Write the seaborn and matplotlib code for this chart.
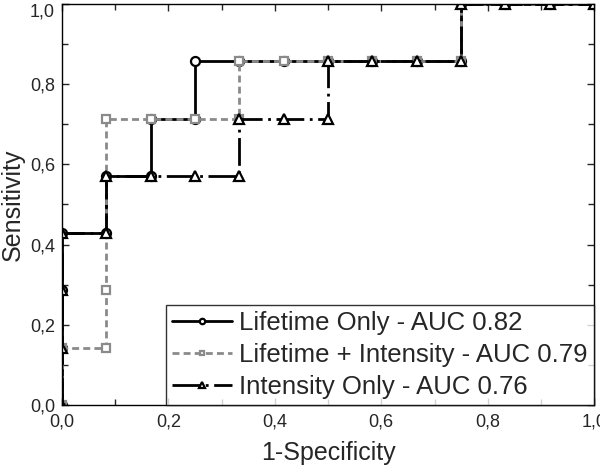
import numpy as np
import pandas as pd
import matplotlib
matplotlib.use('Agg')
import matplotlib.pyplot as plt
import seaborn as sns
from matplotlib.ticker import FuncFormatter, MultipleLocator

# ROC curve points
fpr_lifetime = [0.0, 0.0, 0.0, 0.0, 0.083, 0.083, 0.167, 0.167, 0.25, 0.25, 0.333, 0.417,
                0.5, 0.583, 0.667, 0.75, 0.75, 0.833, 0.917, 1.0]
tpr_lifetime = [0.0, 0.143, 0.286, 0.429, 0.429, 0.571, 0.571, 0.714, 0.714, 0.857, 0.857, 0.857,
                0.857, 0.857, 0.857, 0.857, 1.0, 1.0, 1.0, 1.0]

fpr_combined = [0.0, 0.0, 0.083, 0.083, 0.083, 0.167, 0.25, 0.333, 0.333, 0.417,
                0.5, 0.583, 0.667, 0.75, 0.75, 0.833, 0.917, 1.0]
tpr_combined = [0.0, 0.143, 0.143, 0.286, 0.714, 0.714, 0.714, 0.714, 0.857, 0.857,
                0.857, 0.857, 0.857, 0.857, 1.0, 1.0, 1.0, 1.0]

fpr_intensity = [0.0, 0.0, 0.0, 0.0, 0.083, 0.083, 0.167, 0.25, 0.333, 0.333, 0.417, 0.5,
                 0.5, 0.583, 0.667, 0.75, 0.75, 0.833, 0.917, 1.0]
tpr_intensity = [0.0, 0.143, 0.286, 0.429, 0.429, 0.571, 0.571, 0.571, 0.571, 0.714, 0.714, 0.714,
                 0.857, 0.857, 0.857, 0.857, 1.0, 1.0, 1.0, 1.0]

labels = ['Lifetime Only - AUC 0.82', 'Lifetime + Intensity - AUC 0.79', 'Intensity Only - AUC 0.76']

sns.set_style('ticks')
plt.rcParams['font.family'] = ['Liberation Sans', 'DejaVu Sans']

fig = plt.figure(figsize=(6, 4.69), dpi=100)
ax = fig.add_axes([0.1033, 0.1365, 0.887, 0.855])

sns.lineplot(x=fpr_lifetime, y=tpr_lifetime, sort=False, estimator=None, ax=ax,
             color='black', lw=2, marker='o', markersize=6.5, markerfacecolor='white',
             markeredgecolor='black', markeredgewidth=1.6, label=labels[0])
sns.lineplot(x=fpr_combined, y=tpr_combined, sort=False, estimator=None, ax=ax,
             color='#8a8a8a', lw=2, linestyle=(0, (2.5, 1.5)), marker='s', markersize=6,
             markerfacecolor='white', markeredgecolor='#8a8a8a', markeredgewidth=1.6,
             label=labels[1])
sns.lineplot(x=fpr_intensity, y=tpr_intensity, sort=False, estimator=None, ax=ax,
             color='black', lw=2, linestyle=(0, (10, 2, 1, 2)), marker='^', markersize=7.5,
             markerfacecolor='white', markeredgecolor='black', markeredgewidth=1.6,
             label=labels[2])

ax.set_xlim(0, 1)
ax.set_ylim(0, 1)
ax.xaxis.set_major_locator(MultipleLocator(0.2))
ax.yaxis.set_major_locator(MultipleLocator(0.2))
ax.xaxis.set_minor_locator(MultipleLocator(0.1))
ax.yaxis.set_minor_locator(MultipleLocator(0.1))
comma = FuncFormatter(lambda v, p: f'{v:.1f}'.replace('.', ','))
ax.xaxis.set_major_formatter(comma)
ax.yaxis.set_major_formatter(comma)
ax.tick_params(which='both', direction='in', top=True, right=True, labelsize=13, width=1.0)
ax.tick_params(which='major', length=5)
ax.tick_params(which='minor', length=4)
ax.tick_params(axis='x', which='major', pad=6)
ax.tick_params(axis='y', which='major', pad=5)
for s in ax.spines.values():
    s.set_linewidth(1.0)
    s.set_color('black')

ax.set_xlabel('1-Specificity', fontsize=18, labelpad=8)
ax.set_ylabel('Sensitivity', fontsize=18, labelpad=4)

leg = ax.legend(loc='lower right', fontsize=18.5, frameon=True, fancybox=False,
                edgecolor='black', borderaxespad=0, handlelength=2.3, markerscale=0.6,
                labelspacing=0.3, handletextpad=0.3, borderpad=0.25)
leg.get_frame().set_linewidth(1.0)

# keep the top y label inside the figure, as in the reference
fig.canvas.draw()
for tick in ax.yaxis.get_major_ticks():
    if abs(tick.get_loc() - 1.0) < 1e-6:
        tick.label1.set_va('top')

fig.savefig('out.png', dpi=100)
